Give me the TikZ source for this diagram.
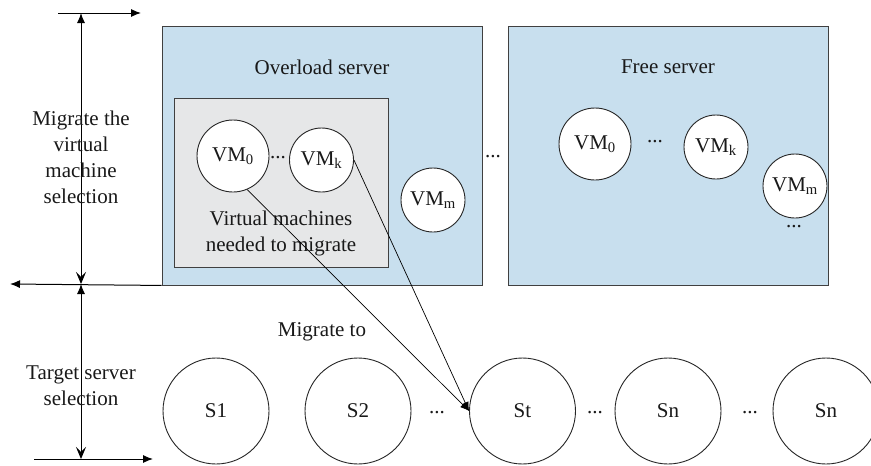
\documentclass[tikz,border=0pt]{standalone}
\usepackage{fontspec}
\setmainfont{Liberation Serif}
\usetikzlibrary{positioning,arrows.meta}
\definecolor{bluebg}{RGB}{200,223,238}
\definecolor{graybg}{RGB}{230,231,232}

\begin{document}
\begin{tikzpicture}[x=1pt,y=-1pt,
            every node/.style={font=\fontsize{21}{26}\selectfont,text=black!90},
            server/.style={draw=black!75,fill=bluebg,line width=0.9pt,minimum width=320pt,minimum height=259pt,inner sep=0pt},
            vmbox/.style={draw=black!75,fill=graybg,line width=0.9pt,minimum width=214pt,minimum height=169pt,inner sep=0pt},
            vm/.style={circle,draw=black!85,fill=white,line width=0.9pt,minimum size=64pt,inner sep=0pt},
            bigvm/.style={vm,minimum size=72pt},
            target/.style={circle,draw=black!85,fill=white,line width=0.9pt,minimum size=106pt,inner sep=0pt},
            textbox/.style={align=center,inner sep=0pt},
            dimedge/.style={line width=1pt,{Latex[length=10pt,width=8pt]}-{Stealth[length=12pt,width=10pt,inset=5pt]}},
            outedge/.style={line width=1pt,-{Latex[length=10pt,width=8pt]}},
            migedge/.style={line width=0.7pt,-{Latex[length=9pt,width=7pt]}}
        ]
            \useasboundingbox (0,0) rectangle (871,466);
            % servers
            \node[server] (ovl) at (322,155.5) {};
            \node[server] (free) at (668.5,155.5) {};
            \node[vmbox] (need) at (281,182.5) {};
            \node[textbox] at (322,67) {Overload server};
            \node[textbox] at (668,67) {Free server};
            \node[textbox] at (281,233) {Virtual machines\\needed to migrate};
            \node[textbox] at (493,157) {...};
            % virtual machines
            \node[bigvm] (vm0) at (233,156) {VM\textsubscript{0}};
            \node[vm] (vmk) at (321.5,160) {VM\textsubscript{k}};
            \node[vm] (vmm) at (433,200) {VM\textsubscript{m}};
            \node[textbox] at (278,158) {...};
            \node[bigvm] (fvm0) at (595,144) {VM\textsubscript{0}};
            \node[vm] (fvmk) at (716,147) {VM\textsubscript{k}};
            \node[vm] (fvmm) at (795,186) {VM\textsubscript{m}};
            \node[textbox] at (655,142) {...};
            \node[textbox] at (794,227) {...};
            % target servers
            \node[target] (s1) at (216,411) {S1};
            \node[target] (s2) at (358,411) {S2};
            \node[target] (st) at (522.5,411) {St};
            \node[target] (sn) at (668,411) {Sn};
            \node[target] (sn2) at (826,411) {Sn};
            \node[textbox] at (437,413) {...};
            \node[textbox] at (595,413) {...};
            \node[textbox] at (750,413) {...};
            \node[textbox] at (322,332) {Migrate to};
            \path[migedge]
                (vm0.-67) edge (st.west)
                (vmk.east) edge (st.west);
            % stage marks on the left
            \coordinate (top) at (81,13);
            \coordinate (mid) at (81,284);
            \coordinate (bot) at (81,459);
            \draw[outedge] (58,13) -- (141,13);
            \draw[outedge] (ovl.south west) -- (10,284);
            \draw[outedge] (34,459) -- (153,459);
            \draw[dimedge] (top) -- (mid);
            \draw[dimedge] (mid) -- (bot);
            \node[textbox] at (81,157) {Migrate the\\virtual\\machine\\selection};
            \node[textbox] at (81,386) {Target server\\selection};
        \end{tikzpicture}
\end{document}
